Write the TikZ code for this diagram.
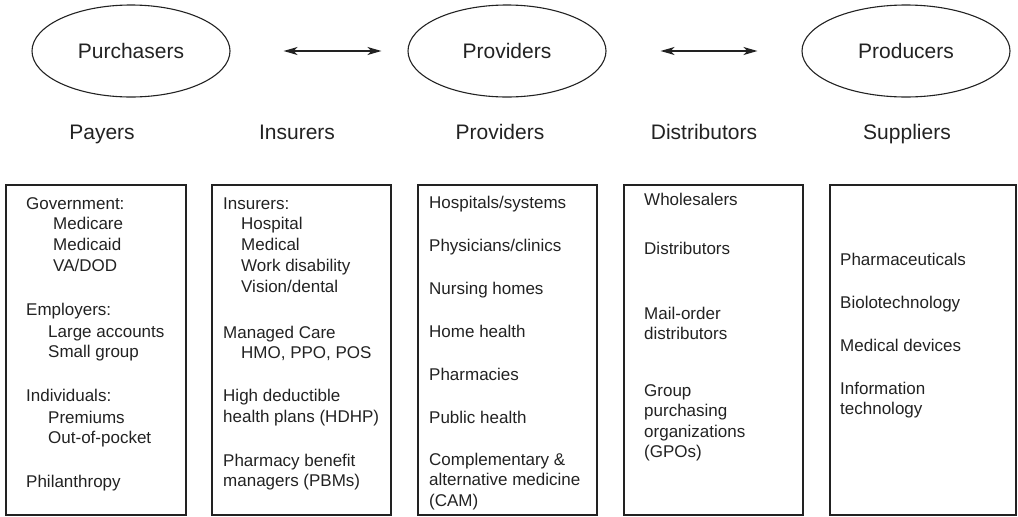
\documentclass[tikz,border=0pt]{standalone}
\usepackage{fontspec}
\setmainfont{Liberation Sans}
\usetikzlibrary{shapes.geometric,arrows.meta}
\definecolor{ink}{HTML}{222222}
\tikzset{
  oval/.style={draw=ink, line width=1.1pt, ellipse, inner sep=0pt, text=ink,
    font=\fontsize{21}{25}\selectfont, minimum height=92pt},
  head/.style={anchor=base, text=ink, inner sep=0pt, font=\fontsize{21}{25}\selectfont},
  box/.style={draw=ink, line width=1.3pt, minimum height=330pt, inner sep=0pt},
  item/.style={anchor=base west, text=ink, inner sep=0pt, font=\fontsize{17}{20}\selectfont},
  link/.style={draw=ink, line width=1.2pt, {Stealth[length=14pt,width=8pt,inset=4pt]}-{Stealth[length=14pt,width=8pt,inset=4pt]}}
}
\begin{document}
\begin{tikzpicture}[x=1pt,y=-1pt]
\useasboundingbox (0,0) rectangle (1018,517);
% ovals
\node[oval, minimum width=198pt] (purch) at (131,51) {Purchasers};
\node[oval, minimum width=198pt] (prov) at (507,51) {Providers};
\node[oval, minimum width=208pt] (prod) at (906,51) {Producers};
\draw[link, shorten <=53pt, shorten >=26pt] (purch) -- (prov);
\draw[link, shorten <=54pt, shorten >=44pt] (prov) -- (prod);
% column heads
\node[head] (h1) at (102,139) {Payers};
\node[head] (h2) at (297,139) {Insurers};
\node[head] (h3) at (500,139) {Providers};
\node[head] (h4) at (704,139) {Distributors};
\node[head] (h5) at (907,139) {Suppliers};
% boxes
\node[box, minimum width=180pt] (b1) at (96,350) {};
\node[box, minimum width=179pt] (b2) at (301.5,350) {};
\node[box, minimum width=179pt] (b3) at (507.5,350) {};
\node[box, minimum width=179pt] (b4) at (713.5,350) {};
\node[box, minimum width=186pt] (b5) at (923,350) {};
% box 1
\node[item] (a1) at (26,209) {Government:};
\node[item] (a2) at (53,229.8) {Medicare};
\node[item] (a3) at (53,250.6) {Medicaid};
\node[item] (a4) at (53,271.4) {VA/DOD};
\node[item] (a5) at (26,315) {Employers:};
\node[item] (a6) at (48,337) {Large accounts};
\node[item] (a7) at (48,357.5) {Small group};
\node[item] (a8) at (26,401) {Individuals:};
\node[item] (a9) at (48,423) {Premiums};
\node[item] (a10) at (48,443.5) {Out-of-pocket};
\node[item] (a11) at (26,487) {Philanthropy};
% box 2
\node[item] (c1) at (223,209) {Insurers:};
\node[item] (c2) at (241,229.8) {Hospital};
\node[item] (c3) at (241,250.6) {Medical};
\node[item] (c4) at (241,271.4) {Work disability};
\node[item] (c5) at (241,292.2) {Vision/dental};
\node[item] (c6) at (223,338) {Managed Care};
\node[item] (c7) at (241,358.5) {HMO, PPO, POS};
\node[item] (c8) at (223,401) {High deductible};
\node[item] (c9) at (223,422) {health plans (HDHP)};
\node[item] (c10) at (223,466) {Pharmacy benefit};
\node[item] (c11) at (223,486.5) {managers (PBMs)};
% box 3
\node[item] (d1) at (429,208) {Hospitals/systems};
\node[item] (d2) at (429,251) {Physicians/clinics};
\node[item] (d3) at (429,294) {Nursing homes};
\node[item] (d4) at (429,337) {Home health};
\node[item] (d5) at (429,380) {Pharmacies};
\node[item] (d6) at (429,423) {Public health};
\node[item] (d7) at (429,465) {Complementary \&};
\node[item] (d8) at (429,485.5) {alternative medicine};
\node[item] (d9) at (429,506) {(CAM)};
% box 4
\node[item] (e1) at (644,205) {Wholesalers};
\node[item] (e2) at (644,254) {Distributors};
\node[item] (e3) at (644,319) {Mail-order};
\node[item] (e4) at (644,339) {distributors};
\node[item] (e5) at (644,396) {Group};
\node[item] (e6) at (644,416.5) {purchasing};
\node[item] (e7) at (644,437) {organizations};
\node[item] (e8) at (644,457.5) {(GPOs)};
% box 5
\node[item] (f1) at (840,265) {Pharmaceuticals};
\node[item] (f2) at (840,308) {Biolotechnology};
\node[item] (f3) at (840,351) {Medical devices};
\node[item] (f4) at (840,394) {Information};
\node[item] (f5) at (840,414.5) {technology};
\end{tikzpicture}
\end{document}
